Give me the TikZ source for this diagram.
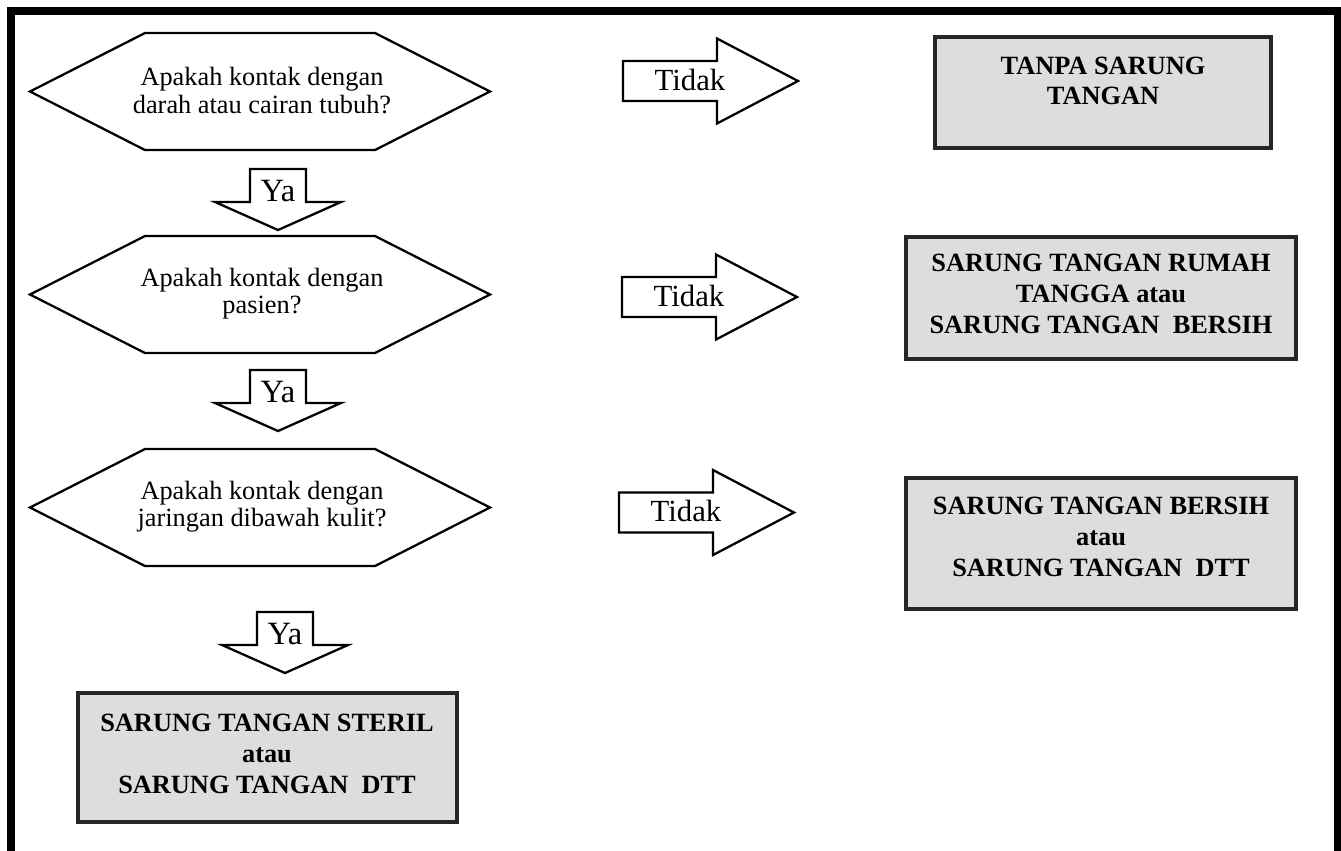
\documentclass[tikz,border=0pt]{standalone}
\usepackage{fontspec}
\setmainfont{Liberation Serif}
\usetikzlibrary{positioning}
\definecolor{boxgray}{RGB}{220,221,223}
\tikzset{
  hexline/.style={draw=black, line width=1.3pt, fill=white},
  blockarrow/.style={draw=black, line width=1.3pt, fill=white},
  answerbox/.style={draw=black!85, line width=1.8pt, fill=boxgray},
  qtext/.style={align=center, inner sep=0pt, font=\fontsize{15}{15.5}\selectfont},
  atext/.style={align=center, inner sep=0pt, font=\fontsize{15}{17.5}\selectfont\bfseries},
  arrtext/.style={inner sep=0pt, anchor=base, font=\fontsize{18.5}{18.5}\selectfont},
}
\begin{document}
\begin{tikzpicture}[x=0.02cm, y=-0.02cm, line join=miter]
\useasboundingbox (0,0) rectangle (1341,850);
\clip (0,0) rectangle (1341,850);
% outer frame, open at the bottom
\draw[line width=4.5pt] (11,870) -- (11,11) -- (1337.5,11) -- (1337.5,870);

% questions
\foreach \yc/\qn/\qt in {91.5/q1/{Apakah kontak dengan\\darah atau cairan tubuh?},
                        294.5/q2/{Apakah kontak dengan\\pasien?},
                        507.5/q3/{Apakah kontak dengan\\jaringan dibawah kulit?}}{
  \draw[hexline] (30,\yc) -- (145,\yc-58.5) -- (375,\yc-58.5) -- (490,\yc)
    -- (375,\yc+58.5) -- (145,\yc+58.5) -- cycle;
  \node[qtext] (\qn) at (262,\yc-1) {\qt};
}

% Ya arrows
\foreach \xc/\ys/\yn in {278/169/y1, 278/370/y2, 285/612/y3}{
  \draw[blockarrow] (\xc-28,\ys) -- (\xc+28,\ys) -- (\xc+28,\ys+33) -- (\xc+63,\ys+33)
    -- (\xc,\ys+61) -- (\xc-63,\ys+33) -- (\xc-28,\ys+33) -- cycle;
  \node[arrtext] (\yn) at (\xc,\ys+32) {Ya};
}

% Tidak arrows
\foreach \xl/\yc/\tn in {623/81/t1, 622/297/t2, 619/512.5/t3}{
  \draw[blockarrow] (\xl,\yc-20) -- (\xl+94,\yc-20) -- (\xl+94,\yc-42.5) -- (\xl+175,\yc)
    -- (\xl+94,\yc+42.5) -- (\xl+94,\yc+20) -- (\xl,\yc+20) -- cycle;
  \node[arrtext, font=\fontsize{17.5}{17.5}\selectfont] (\tn) at (\xl+67,\yc+9) {Tidak};
}

% answers
\draw[answerbox] (935,37) rectangle (1271,148);
\node[atext] (a1) at (1103,81) {TANPA SARUNG\\TANGAN};
\draw[answerbox] (906,237) rectangle (1296,359);
\node[atext] (a2) at (1101,294) {SARUNG TANGAN RUMAH\\TANGGA atau\\SARUNG TANGAN\ \ BERSIH};
\draw[answerbox] (906,478) rectangle (1296,609);
\node[atext] (a3) at (1101,537) {SARUNG TANGAN BERSIH\\atau\\SARUNG TANGAN\ \ DTT};
\draw[answerbox] (78,693) rectangle (457,822);
\node[atext] (a4) at (267,754) {SARUNG TANGAN STERIL\\atau\\SARUNG TANGAN\ \ DTT};
\end{tikzpicture}
\end{document}
